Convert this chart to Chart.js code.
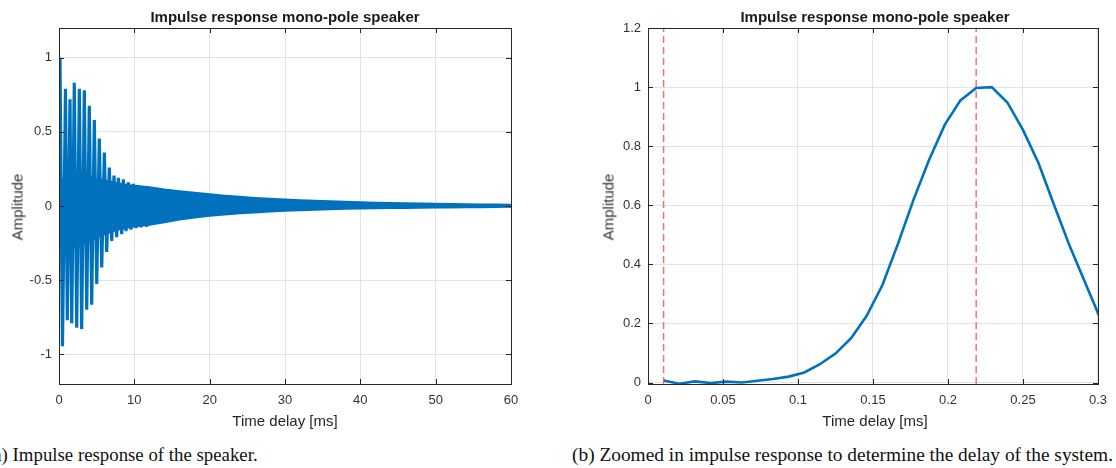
<!DOCTYPE html>
<html><head><meta charset="utf-8">
<script src="https://cdn.jsdelivr.net/npm/chart.js@4/dist/chart.umd.min.js"></script>
<style>
html,body{margin:0;padding:0;background:#fff;}
body{width:1116px;height:468px;overflow:hidden;position:relative;font-family:"Liberation Sans",Arial,sans-serif;}
canvas{position:absolute;top:0;}
.t{position:absolute;white-space:nowrap;color:#262626;line-height:normal;}
.title{font-weight:bold;font-size:15px;top:8px;transform:translateX(-50%);color:#1a1a1a;}
.xl{font-size:15px;top:412px;transform:translateX(-50%);}
.yl{font-size:15px;top:207px;transform:translate(-50%,-50%) rotate(-90deg);color:#333;}
.cap{font-family:"Liberation Serif","DejaVu Serif",serif;font-size:18px;top:445px;color:#111;transform-origin:0 0;}
</style></head>
<body>
<canvas id="c1" width="560" height="440" style="left:0"></canvas>
<canvas id="c2" width="556" height="440" style="left:560px"></canvas>
<div class="t title" style="left:285px">Impulse response mono-pole speaker</div>
<div class="t title" style="left:875px">Impulse response mono-pole speaker</div>
<div class="t xl" style="left:285px">Time delay [ms]</div>
<div class="t xl" style="left:875px">Time delay [ms]</div>
<div class="t yl" style="left:17px">Amplitude</div>
<div class="t yl" style="left:608px">Amplitude</div>
<div class="t cap" id="capA"><span id="capApre">(a</span>) Impulse response of the speaker.</div>
<div class="t cap" id="capB">(b) Zoomed in impulse response to determine the delay of the system.</div>
<script>
// ---------- Left panel: impulse response 0-60 ms ----------
const spikeUpT = [0.13,0.86,1.46,2.03,2.70,3.36,4.02,4.69,5.35,6.02,6.68,7.30,7.88,8.54,9.20,9.87,10.53,11.20,11.95];
const spikeUpV = [1.00,0.79,0.72,0.83,0.79,0.78,0.675,0.58,0.455,0.36,0.26,0.205,0.19,0.18,0.16,0.15,0.14,0.13,0.12];
const spikeDnT = [0.46,1.10,1.69,2.35,3.01,3.68,4.34,5.01,5.67,6.33,7.00,7.66,8.33,8.90,9.56,10.23,10.89,11.65];
const spikeDnV = [-0.945,-0.77,-0.79,-0.82,-0.83,-0.70,-0.665,-0.525,-0.415,-0.31,-0.235,-0.21,-0.19,-0.17,-0.16,-0.15,-0.145,-0.14];
const bandT  = [0,1,2,3,4,5,6,7,8,9,10,11,12,14,16,18,20,22,24,26,28,30,32,34,36,38,40,42,44,46,48,50,52,54,56,58,60];
const bandUp = [0.15,0.2,0.2,0.2,0.19,0.18,0.17,0.16,0.15,0.14,0.135,0.13,0.125,0.11,0.098,0.087,0.077,0.068,0.06,0.053,0.047,0.042,0.037,0.033,0.03,0.027,0.024,0.021,0.019,0.017,0.015,0.013,0.011,0.01,0.009,0.008,0.007];
const bandLo = [-0.2,-0.28,-0.28,-0.26,-0.24,-0.21,-0.19,-0.17,-0.155,-0.145,-0.135,-0.13,-0.125,-0.108,-0.09,-0.076,-0.064,-0.055,-0.048,-0.042,-0.036,-0.031,-0.027,-0.024,-0.02,-0.017,-0.015,-0.013,-0.012,-0.011,-0.01,-0.009,-0.008,-0.007,-0.006,-0.005,-0.004];
const xTicksA = [0,10,20,30,40,50,60];
const yTicksA = [-1,-0.5,0,0.5,1];

// ---------- Right panel: zoom 0-0.3 ms ----------
const zoomT = [0.0104,0.0208,0.0313,0.0417,0.0521,0.0625,0.0729,0.0833,0.0938,0.1042,0.1146,0.1250,0.1354,0.1458,0.1563,0.1667,0.1771,0.1875,0.1979,0.2083,0.2188,0.2292,0.2396,0.2500,0.2604,0.2708,0.2813,0.2917,0.3021];
const zoomV = [0.007,-0.004,0.004,-0.002,0.003,0.000,0.006,0.012,0.020,0.034,0.062,0.098,0.150,0.226,0.330,0.470,0.620,0.755,0.873,0.955,0.997,1.000,0.948,0.855,0.742,0.600,0.460,0.335,0.210];
const delayMarks = [0.0104,0.2188];
const xTicksB = [0,0.05,0.1,0.15,0.2,0.25,0.3];
const yTicksB = [0,0.2,0.4,0.6,0.8,1,1.2];

const BLUE = 'rgb(0,114,189)';
const AX = '#262626';
const GRID = '#e3e3e3';
const tickFont = {family:'"Liberation Sans", Arial, sans-serif', size:13};

const pts = (T,V) => T.map((t,i)=>({x:t,y:V[i]}));

// merge spikes (up and down) by time into one trace starting at 0
const spikeTrace = [{x:0,y:0}].concat(pts(spikeUpT,spikeUpV), pts(spikeDnT,spikeDnV)).sort((a,b)=>a.x-b.x);

const boxPlugin = {
  id:'box',
  afterDraw(chart){
    const {ctx, chartArea:a} = chart;
    const xs = chart.scales.x, ys = chart.scales.y;
    ctx.save();
    ctx.strokeStyle = AX; ctx.lineWidth = 1;
    ctx.strokeRect(Math.round(a.left)+0.5, Math.round(a.top)+0.5, Math.round(a.right-a.left), Math.round(a.bottom-a.top));
    ctx.beginPath();
    const L = 5;
    xs.ticks.forEach(t=>{
      const p = Math.round(xs.getPixelForValue(t.value))+0.5;
      ctx.moveTo(p,a.bottom); ctx.lineTo(p,a.bottom-L);
      ctx.moveTo(p,a.top); ctx.lineTo(p,a.top+L);
    });
    ys.ticks.forEach(t=>{
      const p = Math.round(ys.getPixelForValue(t.value))+0.5;
      ctx.moveTo(a.left,p); ctx.lineTo(a.left+L,p);
      ctx.moveTo(a.right,p); ctx.lineTo(a.right-L,p);
    });
    ctx.stroke();
    ctx.restore();
  }
};

function axes(xmin,xmax,xt,ymin,ymax,yt,yw){
  return {
    x:{type:'linear',min:xmin,max:xmax,
       afterBuildTicks:s=>{s.ticks = xt.map(v=>({value:v}));},
       afterFit:s=>{s.height = 30;},
       ticks:{font:tickFont,color:'#333',padding:9,maxRotation:0,autoSkip:false,callback:v=>String(v)},
       grid:{color:GRID,drawTicks:false},border:{display:false}},
    y:{type:'linear',min:ymin,max:ymax,
       afterBuildTicks:s=>{s.ticks = yt.map(v=>({value:v}));},
       afterFit:s=>{s.width = yw;},
       ticks:{font:tickFont,color:'#333',padding:7,autoSkip:false,callback:v=>String(v)},
       grid:{color:GRID,drawTicks:false},border:{display:false}}
  };
}

new Chart(document.getElementById('c1'),{
  type:'line',
  data:{datasets:[
    {data:spikeTrace,borderColor:BLUE,borderWidth:3.2,pointRadius:0,tension:0,fill:false,order:0},
    {data:pts(bandT,bandUp),borderColor:BLUE,backgroundColor:BLUE,borderWidth:2.5,pointRadius:0,tension:0,fill:'+1',order:1},
    {data:pts(bandT,bandLo),borderColor:BLUE,borderWidth:2.5,pointRadius:0,tension:0,fill:false,order:2}
  ]},
  options:{responsive:false,animation:false,events:[],
    layout:{padding:{top:28,left:0,right:49,bottom:26}},
    plugins:{legend:{display:false},tooltip:{enabled:false},title:{display:false}},
    scales:axes(0,60,xTicksA,-1.2,1.2,yTicksA,59)},
  plugins:[boxPlugin]
});

const markSets = delayMarks.map(m=>({data:[{x:m,y:-0.005},{x:m,y:1.2}],borderColor:'rgba(236,80,80,0.8)',borderWidth:1.5,borderDash:[7,4],pointRadius:0,fill:false,order:0}));
new Chart(document.getElementById('c2'),{
  type:'line',
  data:{datasets:[
    {data:pts(zoomT,zoomV),borderColor:BLUE,borderWidth:2.6,pointRadius:0,tension:0,fill:false,clip:0,order:1}
  ].concat(markSets)},
  options:{responsive:false,animation:false,events:[],
    layout:{padding:{top:28,left:0,right:14,bottom:26}},
    plugins:{legend:{display:false},tooltip:{enabled:false},title:{display:false}},
    scales:axes(0,0.3,xTicksB,-0.005,1.2,yTicksB,88)},
  plugins:[boxPlugin]
});

// caption placement
const capA = document.getElementById('capA');
const pre = document.getElementById('capApre').getBoundingClientRect().width;
const wA = capA.getBoundingClientRect().width - pre;
const sA = 256 / wA;
capA.style.transform = 'scaleX('+sA+')';
capA.style.left = (2 - pre*sA) + 'px';
const capB = document.getElementById('capB');
const sB = 541 / capB.getBoundingClientRect().width;
capB.style.transform = 'scaleX('+sB+')';
capB.style.left = '572px';
</script>
</body></html>
